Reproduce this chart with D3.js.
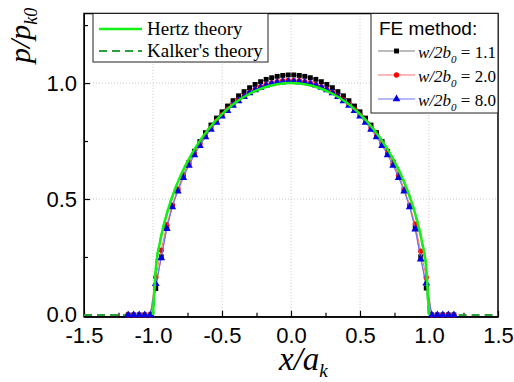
<!DOCTYPE html>
<html lang="en">
<head>
    <meta charset="UTF-8">
    <title>Contact pressure distribution</title>
    <script src="https://d3js.org/d3.v7.min.js"></script>
    <style>
        body { margin: 0; background: #fff; }
        svg { display: block; }
        .tick text { font-family: Arial, "Liberation Sans", sans-serif; font-size: 22px; fill: #000; }
        .serif { font-family: "Times New Roman", "Liberation Serif", serif; }
    </style>
</head>
<body>
<svg width="514" height="382"></svg>
<script>
    // theory curves
    const hertzX = [-1.0, -0.98, -0.95, -0.9, -0.85, -0.8, -0.75, -0.7, -0.6, -0.5, -0.4, -0.3, -0.2, -0.1, 0.0,
                    0.1, 0.2, 0.3, 0.4, 0.5, 0.6, 0.7, 0.75, 0.8, 0.85, 0.9, 0.95, 0.98, 1.0];
    const hertzY = [0, 0.199, 0.312, 0.436, 0.527, 0.600, 0.661, 0.714, 0.800, 0.866, 0.917, 0.954, 0.980, 0.995, 1.000,
                    0.995, 0.980, 0.954, 0.917, 0.866, 0.800, 0.714, 0.661, 0.600, 0.527, 0.436, 0.312, 0.199, 0];
    const kalkerX = [-1.5, -1.0, -0.98, -0.95, -0.9, -0.85, -0.8, -0.75, -0.7, -0.6, -0.5, -0.4, -0.3, -0.2, -0.1, 0.0,
                     0.1, 0.2, 0.3, 0.4, 0.5, 0.6, 0.7, 0.75, 0.8, 0.85, 0.9, 0.95, 0.98, 1.0, 1.5];
    const kalkerY = [0, 0, 0.199, 0.312, 0.436, 0.527, 0.600, 0.661, 0.714, 0.800, 0.866, 0.917, 0.954, 0.980, 0.995, 1.000,
                     0.995, 0.980, 0.954, 0.917, 0.866, 0.800, 0.714, 0.661, 0.600, 0.527, 0.436, 0.312, 0.199, 0, 0];

    // FE nodes
    const feX = [-1.18, -1.14, -1.10, -1.06, -1.02, -0.98, -0.94, -0.90, -0.86, -0.82,
                 -0.78, -0.74, -0.70, -0.66, -0.62, -0.58, -0.54, -0.50, -0.46, -0.42,
                 -0.38, -0.34, -0.30, -0.26, -0.22, -0.18, -0.14, -0.10, -0.06, -0.02,
                 0.02, 0.06, 0.10, 0.14, 0.18, 0.22, 0.26, 0.30, 0.34, 0.38,
                 0.42, 0.46, 0.50, 0.54, 0.58, 0.62, 0.66, 0.70, 0.74, 0.78,
                 0.82, 0.86, 0.90, 0.94, 0.98, 1.02, 1.06, 1.10, 1.14, 1.18];
    const fe11 = [0, 0, 0, 0, 0, 0.114, 0.251, 0.376, 0.470, 0.542,
                  0.604, 0.658, 0.706, 0.748, 0.786, 0.819, 0.849, 0.876, 0.901, 0.924,
                  0.945, 0.963, 0.980, 0.994, 1.006, 1.016, 1.023, 1.029, 1.033, 1.035,
                  1.035, 1.033, 1.029, 1.023, 1.016, 1.006, 0.994, 0.980, 0.963, 0.945,
                  0.924, 0.901, 0.876, 0.849, 0.819, 0.786, 0.748, 0.706, 0.658, 0.604,
                  0.542, 0.470, 0.376, 0.251, 0.116, 0, 0, 0, 0, 0];
    const fe20 = [0, 0, 0, 0, 0, 0.163, 0.279, 0.389, 0.473, 0.541,
                  0.600, 0.651, 0.697, 0.737, 0.773, 0.806, 0.836, 0.863, 0.887, 0.909,
                  0.928, 0.945, 0.961, 0.974, 0.985, 0.994, 1.001, 1.006, 1.010, 1.011,
                  1.011, 1.010, 1.006, 1.001, 0.994, 0.985, 0.974, 0.961, 0.945, 0.928,
                  0.909, 0.887, 0.863, 0.836, 0.806, 0.773, 0.737, 0.697, 0.651, 0.600,
                  0.541, 0.473, 0.392, 0.275, 0.162, 0, 0, 0, 0, 0];
    const fe80 = [0, 0, 0, 0, 0, 0.135, 0.245, 0.372, 0.465, 0.533,
                  0.592, 0.644, 0.690, 0.730, 0.767, 0.800, 0.830, 0.857, 0.881, 0.903,
                  0.923, 0.941, 0.957, 0.970, 0.981, 0.990, 0.997, 1.002, 1.005, 1.007,
                  1.007, 1.005, 1.002, 0.997, 0.990, 0.981, 0.970, 0.957, 0.941, 0.923,
                  0.903, 0.881, 0.857, 0.830, 0.800, 0.767, 0.730, 0.690, 0.644, 0.592,
                  0.533, 0.465, 0.370, 0.240, 0.137, 0, 0, 0, 0, 0];

    const xTicks = [-1.5, -1.0, -0.5, 0.0, 0.5, 1.0, 1.5];
    const yTicks = [0.0, 0.5, 1.0];
    const feLabels = ["1.1", "2.0", "8.0"];

    const svg = d3.select("svg");
    const x = d3.scaleLinear().domain([-1.5, 1.5]).range([84, 498]);
    const y = d3.scaleLinear().domain([-0.008, 1.3]).range([316.8, 13.5]);

    // dotted grid
    const grid = svg.append("g").attr("stroke", "#c8c8c8").attr("stroke-dasharray", "1,2").attr("stroke-width", 1);
    grid.selectAll(".gx").data([-1.0, -0.5, 0.0, 0.5, 1.0]).join("line")
        .attr("x1", d => x(d)).attr("x2", d => x(d)).attr("y1", y.range()[0]).attr("y2", y.range()[1]);
    grid.selectAll(".gy").data([0.5, 1.0]).join("line")
        .attr("y1", d => y(d)).attr("y2", d => y(d)).attr("x1", x.range()[0]).attr("x2", x.range()[1]);

    // axes with inward ticks
    const xAxis = svg.append("g").attr("transform", `translate(0,${y.range()[0]})`)
        .call(d3.axisBottom(x).tickValues(xTicks).tickSizeInner(-6).tickSizeOuter(0).tickPadding(11)
            .tickFormat(d3.format(".1f")));
    svg.append("g").attr("transform", `translate(0,${y.range()[0]})`)
        .call(d3.axisBottom(x).tickValues([-1.25, -0.75, -0.25, 0.25, 0.75, 1.25]).tickSizeInner(-4).tickSizeOuter(0).tickFormat(""))
        .select(".domain").remove();
    const yAxis = svg.append("g").attr("transform", `translate(${x.range()[0]},0)`)
        .call(d3.axisLeft(y).tickValues(yTicks).tickSizeInner(-6).tickSizeOuter(0).tickPadding(7)
            .tickFormat(d3.format(".1f")));
    svg.append("g").attr("transform", `translate(${x.range()[0]},0)`)
        .call(d3.axisLeft(y).tickValues([0.25, 0.75, 1.25]).tickSizeInner(-4).tickSizeOuter(0).tickFormat(""))
        .select(".domain").remove();
    svg.selectAll(".tick line").attr("stroke-width", 1.2);
    xAxis.selectAll(".tick text").text(d => d3.format(".1f")(d).replace("−", "-"));
    yAxis.selectAll(".tick text").text(d => d3.format(".1f")(d).replace("−", "-"));

    // frame
    svg.append("rect").attr("x", x.range()[0]).attr("y", y.range()[1])
        .attr("width", x.range()[1] - x.range()[0]).attr("height", y.range()[0] - y.range()[1])
        .attr("fill", "none").attr("stroke", "#000").attr("stroke-width", 1.5);

    const line = (xs, ys) => d3.line().x((d, i) => x(xs[i])).y(d => y(d)).curve(d3.curveMonotoneX)(ys);
    const lineStraight = (xs, ys) => d3.line().x((d, i) => x(xs[i])).y(d => y(d))(ys);

    // Kalker's theory, dashed
    svg.append("path").attr("d", line(kalkerX, kalkerY))
        .attr("fill", "none").attr("stroke", "#2e9e3a").attr("stroke-width", 2).attr("stroke-dasharray", "8,5");

    // FE series
    const series = [
        { ys: fe11, line: "#7a7a7a", mark: "#000", sym: d3.symbolSquare, size: 24 },
        { ys: fe20, line: "#ff7070", mark: "#f00", sym: d3.symbolCircle, size: 22 },
        { ys: fe80, line: "#7070ff", mark: "#0000e0", sym: d3.symbolTriangle, size: 26 }
    ];
    series.forEach(s => {
        svg.append("path").attr("d", lineStraight(feX, s.ys))
            .attr("fill", "none").attr("stroke", s.line).attr("stroke-width", 1);
        svg.append("g").selectAll("path").data(s.ys).join("path")
            .attr("transform", (d, i) => `translate(${x(feX[i])},${y(d)})`)
            .attr("d", d3.symbol(s.sym, s.size))
            .attr("fill", s.mark);
    });

    // Hertz theory
    svg.append("path").attr("d", line(hertzX, hertzY))
        .attr("fill", "none").attr("stroke", "#14f014").attr("stroke-width", 2.5);

    // legend 1
    const lg1 = svg.append("g");
    lg1.append("rect").attr("x", 93).attr("y", 13.5).attr("width", 175).attr("height", 48.5)
        .attr("fill", "#fff").attr("stroke", "#222").attr("stroke-width", 1);
    lg1.append("line").attr("x1", 99).attr("x2", 142).attr("y1", 29).attr("y2", 29)
        .attr("stroke", "#14f014").attr("stroke-width", 2.5);
    lg1.append("line").attr("x1", 99).attr("x2", 142).attr("y1", 51).attr("y2", 51)
        .attr("stroke", "#2e9e3a").attr("stroke-width", 2).attr("stroke-dasharray", "8,5");
    lg1.append("text").attr("class", "serif").attr("x", 147).attr("y", 35).attr("font-size", 19).text("Hertz theory");
    lg1.append("text").attr("class", "serif").attr("x", 147).attr("y", 57).attr("font-size", 19).text("Kalker's theory");

    // legend 2
    const lg2 = svg.append("g");
    lg2.append("rect").attr("x", 371).attr("y", 13.5).attr("width", 127).attr("height", 99.5)
        .attr("fill", "#fff").attr("stroke", "#222").attr("stroke-width", 1);
    lg2.append("text").attr("x", 379).attr("y", 35).attr("font-family", "Arial, 'Liberation Sans', sans-serif")
        .attr("font-size", 19).text("FE method:");
    series.forEach((s, i) => {
        const ly = 51 + i * 24;
        lg2.append("line").attr("x1", 378).attr("x2", 415).attr("y1", ly).attr("y2", ly)
            .attr("stroke", s.line).attr("stroke-width", 1);
        lg2.append("path").attr("transform", `translate(396.5,${ly})`)
            .attr("d", d3.symbol(s.sym, s.size)).attr("fill", s.mark);
        const t = lg2.append("text").attr("class", "serif").attr("x", 418).attr("y", ly + 6.5).attr("font-size", 17);
        t.append("tspan").attr("font-style", "italic").text("w/2b");
        t.append("tspan").attr("font-style", "italic").attr("font-size", 11).attr("dy", 5).text("0");
        t.append("tspan").attr("dy", -5).text(" = " + feLabels[i]);
    });

    // axis titles
    const xt = svg.append("text").attr("class", "serif").attr("x", 279).attr("y", 370)
        .attr("font-size", 33).attr("font-style", "italic");
    xt.append("tspan").text("x/a");
    xt.append("tspan").attr("font-size", 19).attr("dy", 7).text("k");

    const yt = svg.append("text").attr("class", "serif")
        .attr("transform", "translate(30,63) rotate(-90)")
        .attr("font-size", 30).attr("font-style", "italic");
    yt.append("tspan").text("p/p");
    yt.append("tspan").attr("font-size", 18).attr("dy", 7).text("k0");
</script>
</body>
</html>
